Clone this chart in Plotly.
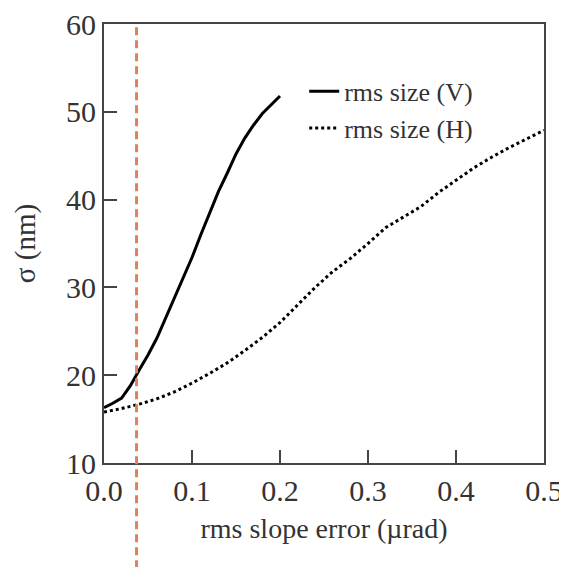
import plotly.graph_objects as go

# rms slope error (urad) and rms beam size (nm)
x_v = [0.00, 0.01, 0.02, 0.03, 0.04, 0.05, 0.06, 0.07, 0.08, 0.09, 0.10,
       0.11, 0.12, 0.13, 0.14, 0.15, 0.16, 0.17, 0.18, 0.19, 0.20]
size_v = [16.3, 16.8, 17.4, 18.8, 20.6, 22.3, 24.2, 26.5, 28.8, 31.0, 33.4,
          36.0, 38.5, 40.9, 43.0, 45.2, 47.0, 48.5, 49.8, 50.8, 51.8]

x_h = [0.00, 0.02, 0.04, 0.06, 0.08, 0.10, 0.12, 0.14, 0.16, 0.18, 0.20,
       0.22, 0.24, 0.26, 0.28, 0.30, 0.32, 0.34, 0.36, 0.38, 0.40,
       0.42, 0.44, 0.46, 0.48, 0.50]
size_h = [15.8, 16.2, 16.7, 17.3, 18.1, 19.1, 20.2, 21.4, 22.8, 24.3, 26.0,
          28.0, 30.0, 31.8, 33.3, 35.0, 36.8, 38.0, 39.2, 40.8, 42.2,
          43.6, 44.8, 45.9, 46.9, 47.9]

marker_x = 0.037

font_name = "Liberation Serif"
text_col = "#333333"
axis_col = "#444444"

fig = go.Figure()
fig.add_trace(go.Scatter(x=x_v, y=size_v, mode="lines", name="rms size (V)",
                         line=dict(color="black", width=3)))
fig.add_trace(go.Scatter(x=x_h, y=size_h, mode="lines", name="rms size (H)",
                         line=dict(color="black", width=3, dash="dot")))

fig.add_shape(type="line", xref="x", yref="paper", x0=marker_x, x1=marker_x,
              y0=-0.24, y1=1.0, line=dict(color="rgb(220,130,90)", width=3, dash="8px,5px"))

# page body has an 8px margin, so the figure is a bit smaller than the window
fig.update_layout(
    width=559, height=559,
    margin=dict(l=96, r=23, t=16, b=104),
    plot_bgcolor="white", paper_bgcolor="white",
    font=dict(family=font_name, color=text_col, size=30),
    showlegend=True,
    legend=dict(x=0.455, y=0.90, xanchor="left", yanchor="top",
                bgcolor="rgba(0,0,0,0)", font=dict(size=26, color=text_col),
                itemwidth=30, tracegroupgap=0),
    xaxis=dict(range=[0, 0.5], tickvals=[0, 0.1, 0.2, 0.3, 0.4, 0.5],
               ticktext=["0.0", "0.1", "0.2", "0.3", "0.4", "0.5"],
               ticks="inside", ticklen=13, tickwidth=2, tickcolor=axis_col,
               showline=True, linecolor=axis_col, linewidth=2, mirror=True,
               showgrid=False, zeroline=False, automargin=False,
               ticklabeloverflow="allow",
               title=dict(text="rms slope error (µrad)", font=dict(size=28), standoff=12)),
    yaxis=dict(range=[10, 60], tickvals=[10, 20, 30, 40, 50, 60],
               ticks="inside", ticklen=13, tickwidth=2, tickcolor=axis_col,
               showline=True, linecolor=axis_col, linewidth=2, mirror=True,
               showgrid=False, zeroline=False, automargin=False,
               ticklabeloverflow="allow",
               title=dict(text="σ (nm)", font=dict(size=29), standoff=22)),
)

fig.write_html("out.html")
